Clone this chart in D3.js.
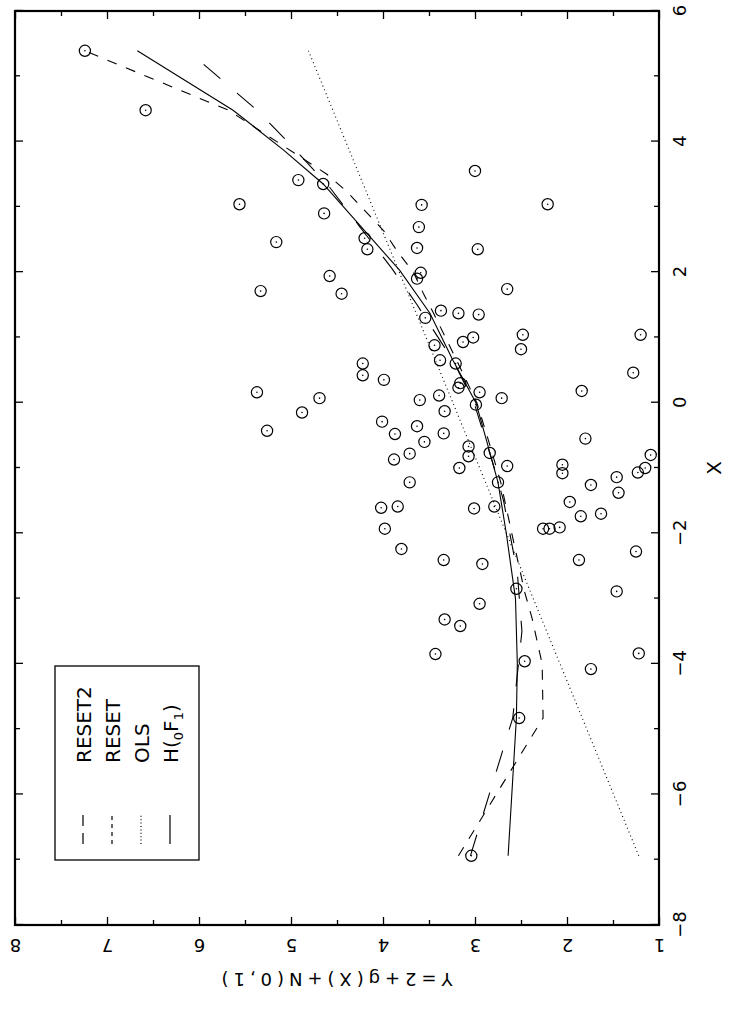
<!DOCTYPE html>
<html>
<head>
<meta charset="utf-8">
<script src="https://cdnjs.cloudflare.com/ajax/libs/d3/7.8.5/d3.min.js"></script>
<style>
  body { margin: 0; background: #fff; }
  text { font-family: "DejaVu Sans", "Liberation Sans", sans-serif; fill: #000; }
</style>
</head>
<body>
<div id="chart"></div>
<script>
// scatter points (X, Y)
const pointX = [5.39, 4.48, 3.55, 3.41, 3.35, 3.04, 3.03, 3.04, 2.90, 2.69, 2.46, 2.52, 2.35, 2.37, 2.35,
  1.94, 1.99, 1.90, 1.71, 1.67, 1.74, 1.30, 1.41, 1.37, 1.35, 1.04, 0.82, 1.04, 0.93, 1.00,
  0.88, 0.65, 0.60, 0.60, 0.42, 0.35, 0.46, 0.30, 0.23, 0.16, 0.18, 0.16, 0.07, 0.11, 0.07,
  0.04, -0.03, -0.15, -0.13, -0.43, -0.29, -0.48, -0.36, -0.47, -0.55, -0.60, -0.67, -0.82, -0.77, -0.87,
  -0.78, -1.00, -0.97, -0.95, -1.08, -0.80, -1.00, -1.07, -1.14, -1.22, -1.22, -1.26, -1.38, -1.52, -1.74,
  -1.70, -1.91, -1.93, -1.93, -1.61, -1.59, -1.93, -2.24, -1.62, -1.59, -2.41, -2.47, -2.41, -2.28, -2.85,
  -2.89, -3.08, -3.32, -3.42, -3.85, -3.96, -4.08, -3.84, -4.83, -6.94];
const pointY = [7.24, 6.58, 3.00, 4.92, 4.65, 5.56, 3.58, 2.21, 4.64, 3.61, 5.16, 4.20, 4.17, 3.63, 2.97,
  4.58, 3.59, 3.63, 5.33, 4.45, 2.65, 3.54, 3.37, 3.18, 2.96, 2.48, 2.50, 1.20, 3.13, 3.02,
  3.44, 3.38, 3.21, 4.22, 4.22, 3.99, 1.28, 3.16, 3.18, 2.95, 1.84, 5.37, 4.69, 3.39, 2.71,
  3.60, 2.99, 4.88, 3.33, 5.26, 4.01, 3.87, 3.63, 3.34, 1.80, 3.55, 3.07, 3.07, 2.84, 3.88,
  3.71, 3.17, 2.65, 2.05, 2.05, 1.09, 1.15, 1.23, 1.46, 3.71, 2.75, 1.74, 1.44, 1.97, 1.85,
  1.63, 2.08, 2.19, 2.26, 4.02, 3.84, 3.98, 3.80, 3.01, 2.79, 3.34, 2.92, 1.87, 1.25, 2.55,
  1.46, 2.95, 3.33, 3.16, 3.43, 2.46, 1.74, 1.22, 2.52, 3.04];

// fitted curves
const hX = [-6.94, -4.83, -4.0, -3.0, -2.0, -1.22, -0.5, 0.0, 0.65, 1.37, 2.03, 2.65, 3.35, 3.87, 4.48, 5.39];
const hY = [2.64, 2.55, 2.54, 2.56, 2.66, 2.75, 2.89, 2.99, 3.24, 3.49, 3.82, 4.21, 4.65, 5.08, 5.63, 6.67];

const resetX = [-6.94, -4.83, -4.0, -3.3, -2.9, -2.0, -1.22, -0.5, 0.0, 0.65, 1.37, 1.67, 2.0, 2.31, 2.63, 2.93, 3.23, 3.5, 4.48, 5.39];
const resetY = [3.18, 2.26, 2.27, 2.38, 2.46, 2.60, 2.72, 2.87, 2.98, 3.20, 3.45, 3.56, 3.67, 3.84, 3.99, 4.19, 4.39, 4.61, 5.68, 7.24];

const reset2X = [-6.94, -4.83, -3.5, -2.6, -1.5, -1.0, 0.0, 0.65, 1.5, 2.05, 2.71, 3.3, 3.76, 3.96, 4.48, 5.39];
const reset2Y = [3.05, 2.59, 2.49, 2.54, 2.69, 2.79, 3.01, 3.24, 3.63, 3.90, 4.26, 4.58, 4.88, 5.01, 5.37, 6.12];

const olsX = [-6.94, 5.39];
const olsY = [1.22, 4.81];

const xTicks = [-8, -6, -4, -2, 0, 2, 4, 6];
const xMinor = [-7, -5, -3, -1, 1, 3, 5];
const yTicks = [1, 2, 3, 4, 5, 6, 7, 8];
const yMinor = [1.5, 2.5, 3.5, 4.5, 5.5, 6.5, 7.5];

const legendNames = ['RESET2', 'RESET', 'OLS', 'H'];

// the chart is drawn upright, then turned a quarter to the left
const W = 1009;
const svg = d3.select('#chart').append('svg')
  .attr('width', 731)
  .attr('height', 1009);

const g = svg.append('g')
  .attr('transform', `translate(0,${W}) rotate(-90)`);

const x = d3.scaleLinear().domain([-8, 6]).range([84, 998]);
const y = d3.scaleLinear().domain([1, 8]).range([659, 15]);

const styles = {
  h: { dash: null, legendDash: null },
  reset: { dash: '10,10', legendDash: '4,4' },
  reset2: { dash: '22,22', legendDash: '11,7' },
  ols: { dash: '1,3.2', legendDash: '1,2.4' }
};

// ticks on all four sides, pointing inward
function addTicks(axis, tr, major, minor, withLabels) {
  const maj = g.append('g').attr('transform', tr)
    .call(axis.tickValues(major).tickSize(-8).tickFormat(withLabels ? d3.format('d') : ''));
  maj.select('.domain').remove();
  const min = g.append('g').attr('transform', tr)
    .call(axis.tickValues(minor).tickSize(-5).tickFormat(''));
  min.select('.domain').remove();
  g.selectAll('.tick line').attr('stroke', '#000').attr('stroke-width', 1.3);
  return maj;
}

const bottomAx = addTicks(d3.axisBottom(x), `translate(0,${y(1)})`, xTicks, xMinor, true);
bottomAx.selectAll('text')
  .attr('y', 21)
  .attr('dy', '0.35em')
  .style('font-size', '18px');

addTicks(d3.axisTop(x), `translate(0,${y(8)})`, xTicks, xMinor, false);

const leftAx = addTicks(d3.axisLeft(y), `translate(${x(-8)},0)`, yTicks, yMinor, true);
leftAx.selectAll('text')
  .attr('x', 0)
  .attr('dy', '0.35em')
  .attr('text-anchor', 'middle')
  .attr('transform', 'translate(-20,0) rotate(-90)')
  .style('font-size', '18px');

addTicks(d3.axisRight(y), `translate(${x(6)},0)`, yTicks, yMinor, false);

// frame
g.append('rect')
  .attr('x', x(-8))
  .attr('y', y(8))
  .attr('width', x(6) - x(-8))
  .attr('height', y(1) - y(8))
  .attr('fill', 'none')
  .attr('stroke', '#000')
  .attr('stroke-width', 2.2);

// titles
g.append('text')
  .attr('x', x(-1))
  .attr('y', 714)
  .attr('dy', '0.35em')
  .attr('text-anchor', 'middle')
  .style('font-size', '20px')
  .text('X');

g.append('text')
  .attr('transform', `translate(30,${(y(1) + y(8)) / 2}) rotate(-90)`)
  .attr('text-anchor', 'middle')
  .attr('dy', '0.35em')
  .attr('textLength', 231)
  .attr('lengthAdjust', 'spacing')
  .style('font-size', '18px')
  .text('Y=2+g(X)+N(0,1)');

// curves
function drawCurve(xs, ys, st) {
  const line = d3.line()
    .x(i => x(xs[i]))
    .y(i => y(ys[i]));
  g.append('path')
    .datum(d3.range(xs.length))
    .attr('d', line)
    .attr('fill', 'none')
    .attr('stroke', '#000')
    .attr('stroke-width', 1.1)
    .attr('stroke-dasharray', st.dash);
}
drawCurve(olsX, olsY, styles.ols);
drawCurve(hX, hY, styles.h);
drawCurve(resetX, resetY, styles.reset);
drawCurve(reset2X, reset2Y, styles.reset2);

// points
const pts = g.append('g');
pts.selectAll('circle.pt')
  .data(d3.range(pointX.length))
  .join('circle')
  .attr('class', 'pt')
  .attr('cx', i => x(pointX[i]))
  .attr('cy', i => y(pointY[i]))
  .attr('r', 5.6)
  .attr('fill', 'none')
  .attr('stroke', '#000')
  .attr('stroke-width', 1.2);
pts.selectAll('circle.dot')
  .data(d3.range(pointX.length))
  .join('circle')
  .attr('class', 'dot')
  .attr('cx', i => x(pointX[i]))
  .attr('cy', i => y(pointY[i]))
  .attr('r', 0.8)
  .attr('fill', '#000');

// legend
const lg = g.append('g');
lg.append('rect')
  .attr('x', 149).attr('y', 55)
  .attr('width', 194).attr('height', 144)
  .attr('fill', '#fff')
  .attr('stroke', '#000')
  .attr('stroke-width', 1.3);

const legendStyles = [styles.reset2, styles.reset, styles.ols, styles.h];
legendNames.forEach((name, i) => {
  const ry = 83 + i * 29;
  lg.append('line')
    .attr('x1', 165).attr('x2', 194)
    .attr('y1', ry).attr('y2', ry)
    .attr('stroke', '#000')
    .attr('stroke-width', 1.2)
    .attr('stroke-dasharray', legendStyles[i].legendDash);
  const t = lg.append('text')
    .attr('x', 246)
    .attr('y', ry + 8)
    .style('font-size', '20px');
  if (name === 'H') {
    t.append('tspan').text('H(');
    t.append('tspan').attr('dy', 5).style('font-size', '13px').text('0');
    t.append('tspan').attr('dy', -5).text('F');
    t.append('tspan').attr('dy', 5).style('font-size', '13px').text('1');
    t.append('tspan').attr('dy', -5).text(')');
  } else {
    t.text(name);
  }
});
</script>
</body>
</html>
